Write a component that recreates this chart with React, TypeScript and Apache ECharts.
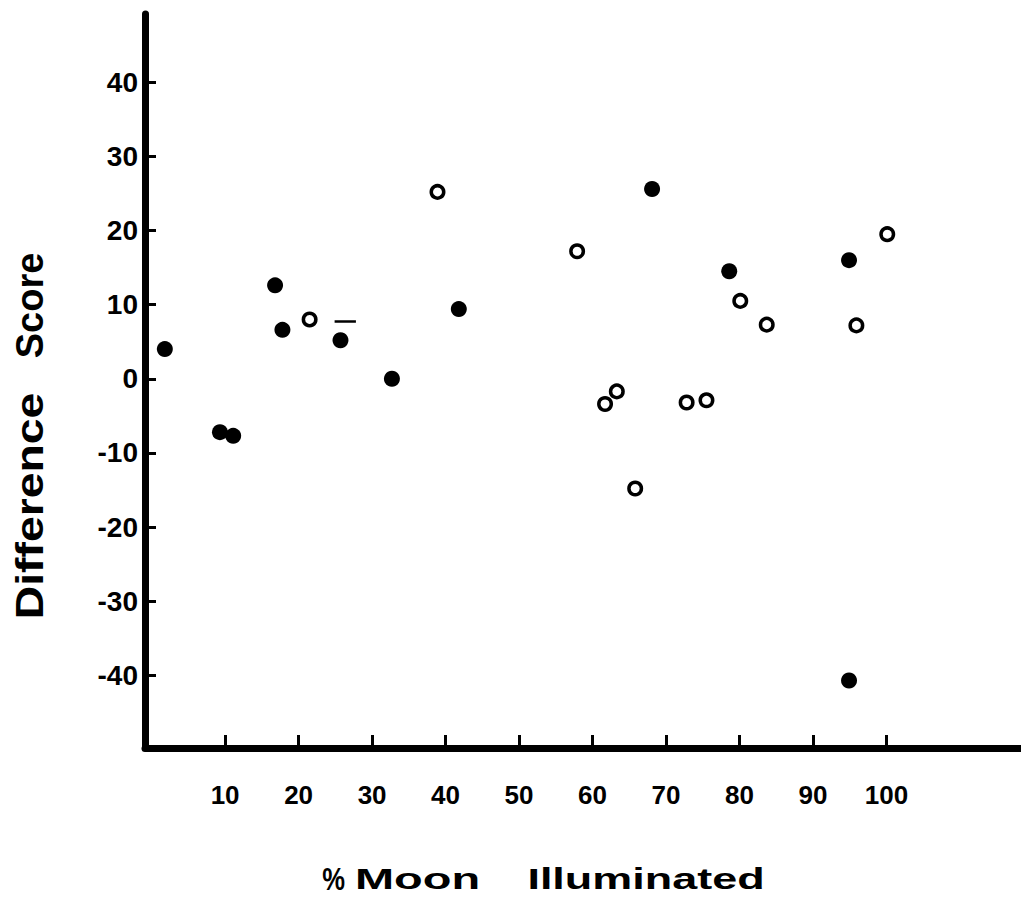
import React, { useEffect, useRef } from "react";
import * as echarts from "echarts";

// Data
const filledX = [1.8, 9.3, 11.1, 16.8, 17.8, 25.7, 32.7, 41.8, 68.1, 78.6, 94.9, 94.9];
const filledY = [4.0, -7.2, -7.7, 12.6, 6.6, 5.2, 0.0, 9.4, 25.6, 14.5, 16.0, -40.7];
const openX = [21.5, 38.9, 57.9, 61.7, 63.3, 65.8, 72.8, 75.5, 80.1, 83.7, 95.9, 100.1];
const openY = [8.0, 25.2, 17.2, -3.4, -1.7, -14.8, -3.2, -2.9, 10.5, 7.3, 7.2, 19.5];
const xTicks = [10, 20, 30, 40, 50, 60, 70, 80, 90, 100];
const yTicks = [-40, -30, -20, -10, 0, 10, 20, 30, 40];
const dashMark = [[24.9, 7.7], [27.8, 7.7]];
const xNameWords = ["%", "Moon", "Illuminated"];
const yNameWords = ["Score", "Difference"];

const LABEL_FONT = "'Liberation Sans', Arial, sans-serif";

export default function App() {
  const ref = useRef<HTMLDivElement>(null);
  useEffect(() => {
    if (!ref.current) return;
    const chart = echarts.init(ref.current, undefined, { renderer: "svg" });
    const filled = filledX.map((x, i) => [x, filledY[i]]);
    const open = openX.map((x, i) => [x, openY[i]]);
    const xNamePos = [
      { cx: 333.5, sx: 0.8, fs: 32 },
      { cx: 417.5, sx: 1.62, fs: 29 },
      { cx: 646, sx: 1.55, fs: 29 },
    ];
    const yNamePos = [
      { cy: 305.5, sx: 1.0 },
      { cy: 506, sx: 1.22 },
    ];
    const graphics: any[] = [];
    xNameWords.forEach((w, i) => {
      graphics.push({
        type: "text",
        x: xNamePos[i].cx,
        y: 879,
        scaleX: xNamePos[i].sx,
        style: {
          text: w,
          fill: "#000",
          fontFamily: LABEL_FONT,
          fontWeight: "bold",
          fontSize: xNamePos[i].fs,
          align: "center",
          verticalAlign: "middle",
        },
      });
    });
    yNameWords.forEach((w, i) => {
      graphics.push({
        type: "text",
        x: 30,
        y: yNamePos[i].cy,
        rotation: Math.PI / 2,
        scaleX: yNamePos[i].sx,
        style: {
          text: w,
          fill: "#000",
          fontFamily: LABEL_FONT,
          fontWeight: "bold",
          fontSize: 38,
          align: "center",
          verticalAlign: "middle",
        },
      });
    });
    chart.setOption({
      animation: false,
      backgroundColor: "#ffffff",
      grid: { left: 145, top: 14, width: 876, height: 734, containLabel: false },
      graphic: graphics,
      xAxis: {
        type: "value",
        min: -0.9,
        max: 118.3,
        axisLine: { show: true, onZero: false, lineStyle: { color: "#000", width: 7 } },
        axisTick: { show: true, inside: true, length: 13, lineStyle: { color: "#000", width: 3 }, customValues: xTicks },
        axisLabel: {
          show: true,
          customValues: xTicks,
          margin: 34,
          color: "#000",
          fontFamily: LABEL_FONT,
          fontWeight: "bold",
          fontSize: 26,
        },
        splitLine: { show: false },
      },
      yAxis: {
        type: "value",
        min: -49.8,
        max: 49.2,
        axisLine: { show: true, onZero: false, lineStyle: { color: "#000", width: 7 } },
        axisTick: { show: true, inside: true, length: 11, lineStyle: { color: "#000", width: 3 }, customValues: yTicks },
        axisLabel: {
          show: true,
          customValues: yTicks,
          margin: 7,
          color: "#000",
          fontFamily: LABEL_FONT,
          fontWeight: "bold",
          fontSize: 28,
        },
        splitLine: { show: false },
      },
      series: [
        {
          name: "filled",
          type: "scatter",
          data: filled,
          symbol: "circle",
          symbolSize: 16,
          itemStyle: { color: "#000", opacity: 1 },
          markLine: {
            silent: true,
            symbol: ["none", "none"],
            label: { show: false },
            lineStyle: { color: "#000", width: 2.5, type: "solid", opacity: 1 },
            data: [[{ coord: dashMark[0] }, { coord: dashMark[1] }]],
          },
        },
        {
          name: "open",
          type: "scatter",
          data: open,
          symbol: "circle",
          symbolSize: 12.5,
          itemStyle: { color: "#fff", borderColor: "#000", borderWidth: 3.5, opacity: 1 },
        },
      ],
    });
    return () => chart.dispose();
  }, []);
  return (
    <div
      ref={ref}
      style={{ position: "fixed", left: 0, top: 0, width: 1021, height: 909, background: "#fff" }}
    />
  );
}
